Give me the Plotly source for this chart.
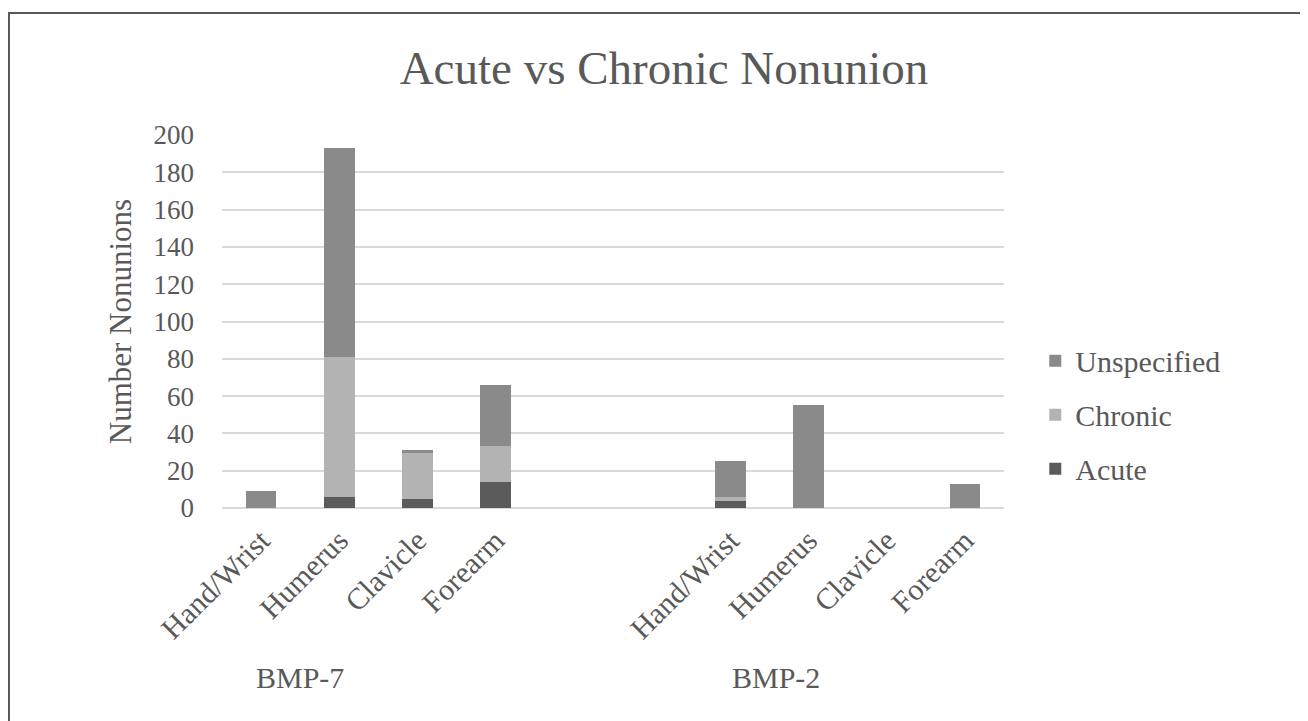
import plotly.graph_objects as go

# ---- data ----
groups = ["BMP-7", "BMP-2"]
sites = ["Hand/Wrist", "Humerus", "Clavicle", "Forearm"]
series_names = ["Acute", "Chronic", "Unspecified"]

acute_bmp7 = [0, 6, 5, 14]
acute_bmp2 = [4, 0, 0, 0]
chronic_bmp7 = [0, 75, 25, 19]
chronic_bmp2 = [2, 0, 0, 0]
unspec_bmp7 = [9, 112, 1, 33]
unspec_bmp2 = [19, 55, 0, 13]

y_ticks = [0, 20, 40, 60, 80, 100, 120, 140, 160, 180, 200]

colors = {"Acute": "#5b5b5b", "Chronic": "#b3b3b3", "Unspecified": "#8a8a8a"}
legend_rank = {"Unspecified": 1, "Chronic": 2, "Acute": 3}

# category ids: group 1 sites, two empty gap slots, group 2 sites
ids_g1 = [f"{groups[0]}|{s}" for s in sites]
ids_g2 = [f"{groups[1]}|{s}" for s in sites]
gap_ids = ["gap1", "gap2"]
category_array = ids_g1 + gap_ids + ids_g2
tick_text = sites + ["", ""] + sites

series_values = {
    "Acute": acute_bmp7 + acute_bmp2,
    "Chronic": chronic_bmp7 + chronic_bmp2,
    "Unspecified": unspec_bmp7 + unspec_bmp2,
}
x_ids = ids_g1 + ids_g2

FONT = "Liberation Serif, Times New Roman, serif"
TXT = "#595959"

W, H = 1300, 713  # page adds an 8px body margin

fig = go.Figure()
for name in series_names:
    fig.add_trace(go.Bar(
        x=x_ids, y=series_values[name], name=name,
        marker=dict(color=colors[name], line=dict(width=0)),
        legendgroup=name, legendrank=legend_rank[name],
    ))

fig.update_layout(
    width=W, height=H,
    barmode="stack", bargap=0.61,
    plot_bgcolor="white", paper_bgcolor="white",
    margin=dict(l=214, r=304, t=127, b=212.7, autoexpand=False),
    font=dict(family=FONT, color=TXT, size=28),
    title=dict(text="Acute vs Chronic Nonunion", x=656 / W, xref="container",
               xanchor="center", y=1 - 60 / H, yanchor="middle",
               font=dict(family=FONT, size=47, color=TXT)),
    showlegend=True,
    legend=dict(traceorder="grouped", tracegroupgap=12,
                x=1.04, xanchor="left", y=0.25, yanchor="middle",
                font=dict(family=FONT, size=30, color=TXT),
                bgcolor="rgba(0,0,0,0)"),
    xaxis=dict(type="category", categoryorder="array", categoryarray=category_array,
               tickmode="array", tickvals=category_array, ticktext=tick_text,
               tickangle=-45, range=[-0.5, 9.5], showgrid=False, zeroline=False,
               showline=False, ticks="", ticklabelstandoff=8,
               tickfont=dict(family=FONT, size=30, color=TXT)),
    yaxis=dict(range=[0, 200], tickvals=y_ticks, showgrid=True, gridcolor="#d9d9d9",
               gridwidth=2, zeroline=True, zerolinecolor="#d9d9d9", zerolinewidth=2,
               showline=False, ticks="", ticklabelstandoff=27,
               tickfont=dict(family=FONT, size=27, color=TXT),
               title=dict(text="Number Nonunions", standoff=12,
                          font=dict(family=FONT, size=31, color=TXT))),
)

# group labels
for g, xp in zip(groups, [0.0997, 0.708]):
    fig.add_annotation(text=g, xref="paper", yref="paper", x=xp, y=-0.4546,
                       showarrow=False, xanchor="center", yanchor="middle",
                       font=dict(family=FONT, size=30, color=TXT))

# chart frame (cropped at right and bottom like the reference)
fig.add_shape(type="rect", xref="paper", yref="paper",
              x0=-0.2724, x1=1.40, y0=-0.60, y1=1.3268,
              line=dict(color="#595959", width=2), fillcolor="rgba(0,0,0,0)", layer="below")

fig.write_html("out.html")
